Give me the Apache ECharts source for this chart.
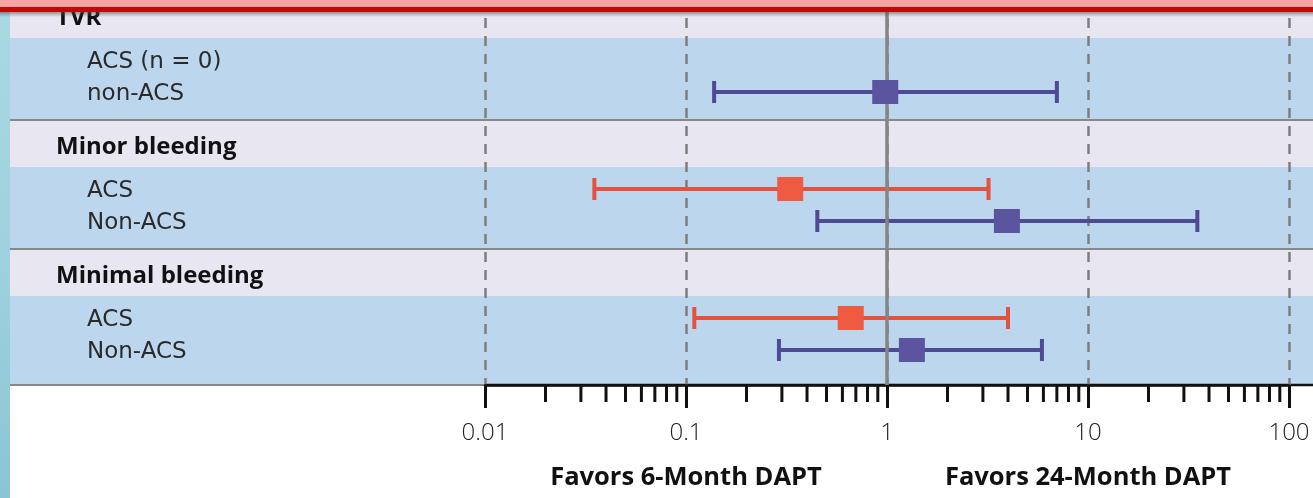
<!DOCTYPE html>
<html><head><meta charset="utf-8">
<script src="https://cdn.jsdelivr.net/npm/echarts@6/dist/echarts.min.js"></script>
<style>html,body{margin:0;padding:0;background:#fff}#c{width:1313px;height:498px}</style>
</head><body><div id="c"></div>
<script>
// ---- data ----
const groups = ['TVR', 'Minor bleeding', 'Minimal bleeding'];
const rowsA = ['ACS (n = 0)', 'ACS', 'ACS'];
const rowsB = ['non-ACS', 'Non-ACS', 'Non-ACS'];
const acsOR = [null, 0.33, 0.66];
const acsLo = [null, 0.035, 0.11];
const acsHi = [null, 3.2, 4.0];
const nonOR = [0.98, 3.95, 1.33];
const nonLo = [0.138, 0.45, 0.29];
const nonHi = [7.0, 35, 5.9];
const tickLabels = ['0.01', '0.1', '1', '10', '100'];
const tickValues = [0.01, 0.1, 1, 10, 100];
const favorLabels = ['Favors 6-Month DAPT', 'Favors 24-Month DAPT'];
const favorAt = [0.1, 10];

// ---- layout ----
const G0 = -8, GH = 129, HEAD = 46, ROW1 = 68, ROW2 = 100, HEADTXT = 24, PLOT_H = 385, TXT_DY = 2;
const RED = '#ef5a42', PURPLE = '#5b549f';
const FONT = '"Open Sans", "Noto Sans", sans-serif';
const ROWFONT = '"DejaVu Sans", "Open Sans", sans-serif';
const gStart = i => G0 + i * GH;

const minorVals = [];
[0.01, 0.1, 1, 10].forEach(d => { for (let k = 2; k <= 9; k++) minorVals.push(+(d * k).toPrecision(3)); });

const acsIdx = groups.map((g, i) => i).filter(i => acsOR[i] != null);
const nonIdx = groups.map((g, i) => i).filter(i => nonOR[i] != null);

function errBar(color) {
  return function (params, api) {
    const y = api.value(1), lo = api.value(2), hi = api.value(3);
    const a = api.coord([lo, y]), b = api.coord([hi, y]);
    const st = { stroke: color, lineWidth: 4 };
    return { type: 'group', children: [
      { type: 'line', shape: { x1: a[0], y1: a[1], x2: b[0], y2: b[1] }, style: st },
      { type: 'line', shape: { x1: a[0], y1: a[1] - 11, x2: a[0], y2: a[1] + 11 }, style: st },
      { type: 'line', shape: { x1: b[0], y1: b[1] - 11, x2: b[0], y2: b[1] + 11 }, style: st }
    ]};
  };
}

const bandData = groups.map((g, i) => [1, gStart(i)]);
const labelItems = [];
groups.forEach((g, i) => {
  labelItems.push({ text: g, y: gStart(i) + HEADTXT, head: true });
  labelItems.push({ text: rowsA[i], y: gStart(i) + ROW1, head: false });
  labelItems.push({ text: rowsB[i], y: gStart(i) + ROW2, head: false });
});

const chart = echarts.init(document.getElementById('c'), null, { renderer: 'canvas' });
chart.setOption({
  animation: false,
  backgroundColor: '#ffffff',
  grid: { left: 485, right: 24, top: 0, height: PLOT_H },
  xAxis: {
    type: 'log', logBase: 10, min: 0.01, max: 100,
    axisLine: { show: true, onZero: false, lineStyle: { color: '#111', width: 2.5 } },
    axisTick: { show: true, length: 23, lineStyle: { color: '#111', width: 3 } },
    minorTick: { show: false },
    axisLabel: {
      margin: 36, color: '#222', fontSize: 24, fontWeight: 300, fontFamily: FONT,
      formatter: v => { const i = tickValues.findIndex(t => Math.abs(Math.log10(t) - Math.log10(v)) < 1e-6); return i >= 0 ? tickLabels[i] : ''; }
    },
    splitLine: { show: true, showMinLine: true, showMaxLine: true, lineStyle: { color: '#7d7d7d', width: 2.5, type: [10, 8] } }
  },
  yAxis: { type: 'value', min: 0, max: PLOT_H, inverse: true, show: false },
  series: [
    {
      type: 'custom', z: -5, clip: false, silent: true,
      data: bandData,
      renderItem: (params, api) => {
        const i = params.dataIndex;
        const s = api.value(1);
        const last = i === groups.length - 1;
        const W = api.getWidth();
        const top = api.coord([1, s])[1];
        const hb = api.coord([1, s + HEAD])[1];
        const bb = last ? api.coord([1, PLOT_H])[1] : api.coord([1, s + GH - 1])[1];
        const x0 = 10;
        const axX = api.coord([0.01, 0])[0];
        const ch = [
          { type: 'rect', shape: { x: x0, y: top, width: W - x0, height: hb - top }, style: { fill: '#e8e6f1' } },
          { type: 'rect', shape: { x: x0, y: hb, width: W - x0, height: bb - hb }, style: { fill: '#bcd6ee' } },
          { type: 'line', shape: { x1: x0, y1: bb, x2: W, y2: bb }, style: { stroke: '#888', lineWidth: 2 } }
        ];
        if (last) ch.push({ type: 'line', shape: { x1: axX, y1: bb, x2: W, y2: bb }, style: { stroke: '#111', lineWidth: 2.5 } });
        return { type: 'group', children: ch };
      }
    },
    {
      type: 'custom', z: 3, clip: false, silent: true,
      data: labelItems.map(d => [1, d.y]),
      renderItem: (params, api) => {
        const d = labelItems[params.dataIndex];
        const y = api.coord([1, api.value(1)])[1] + TXT_DY;
        return { type: 'text', x: d.head ? 56 : 87, y: y, style: {
          text: d.text, fill: d.head ? '#111' : '#2a2a2a', fontSize: d.head ? 24 : 23,
          fontFamily: d.head ? FONT : ROWFONT,
          fontWeight: d.head ? 'bold' : 'normal', verticalAlign: 'middle', align: 'left' } };
      }
    },
    {
      type: 'custom', z: 3, clip: false, silent: true,
      data: minorVals.map(v => [v, PLOT_H]),
      renderItem: (params, api) => {
        const p = api.coord([api.value(0), PLOT_H]);
        return { type: 'line', shape: { x1: p[0], y1: p[1], x2: p[0], y2: p[1] + 17 }, style: { stroke: '#111', lineWidth: 3 } };
      }
    },
    {
      type: 'custom', z: 3, clip: false, silent: true,
      data: favorAt.map(v => [v, PLOT_H]),
      renderItem: (params, api) => {
        const p = api.coord([api.value(0), PLOT_H]);
        return { type: 'text', x: p[0], y: p[1] + 93, style: {
          text: favorLabels[params.dataIndex], fill: '#111', fontSize: 25.5, fontWeight: 'bold', fontFamily: FONT,
          align: 'center', verticalAlign: 'middle' } };
      }
    },
    {
      type: 'line', data: [], z: 1,
      markLine: { silent: true, symbol: 'none', label: { show: false },
        lineStyle: { color: '#858585', width: 3.5, type: 'solid' }, data: [{ xAxis: 1 }] }
    },
    { type: 'custom', z: 4, clip: false, data: acsIdx.map(i => [acsOR[i], gStart(i) + ROW1, acsLo[i], acsHi[i]]), renderItem: errBar('#e4513c') },
    { type: 'custom', z: 4, clip: false, data: nonIdx.map(i => [nonOR[i], gStart(i) + ROW2, nonLo[i], nonHi[i]]), renderItem: errBar('#4f4996') },
    { type: 'scatter', z: 5, symbol: 'rect', symbolSize: [26, 24], itemStyle: { color: RED, opacity: 1 }, data: acsIdx.map(i => [acsOR[i], gStart(i) + ROW1]) },
    { type: 'scatter', z: 5, symbol: 'rect', symbolSize: [26, 24], itemStyle: { color: PURPLE, opacity: 1 }, data: nonIdx.map(i => [nonOR[i], gStart(i) + ROW2]) }
  ],
  graphic: [
    { type: 'rect', z: 100, shape: { x: 0, y: 0, width: 10, height: 498 },
      style: { fill: new echarts.graphic.LinearGradient(0, 0, 0, 1, [{ offset: 0, color: '#a9d9e2' }, { offset: 0.5, color: '#9fd2de' }, { offset: 1, color: '#8cc4d6' }]) } },
    { type: 'rect', z: 100, shape: { x: 0, y: 12, width: 1313, height: 5 },
      style: { fill: new echarts.graphic.LinearGradient(0, 0, 0, 1, [{ offset: 0, color: 'rgba(80,80,80,0.55)' }, { offset: 1, color: 'rgba(80,80,80,0)' }]) } },
    { type: 'rect', z: 101, shape: { x: 0, y: 0, width: 1313, height: 8 }, style: { fill: '#f6a3a3' } },
    { type: 'rect', z: 101, shape: { x: 0, y: 7, width: 1313, height: 5 }, style: { fill: '#c40808' } }
  ]
});
</script></body></html>
